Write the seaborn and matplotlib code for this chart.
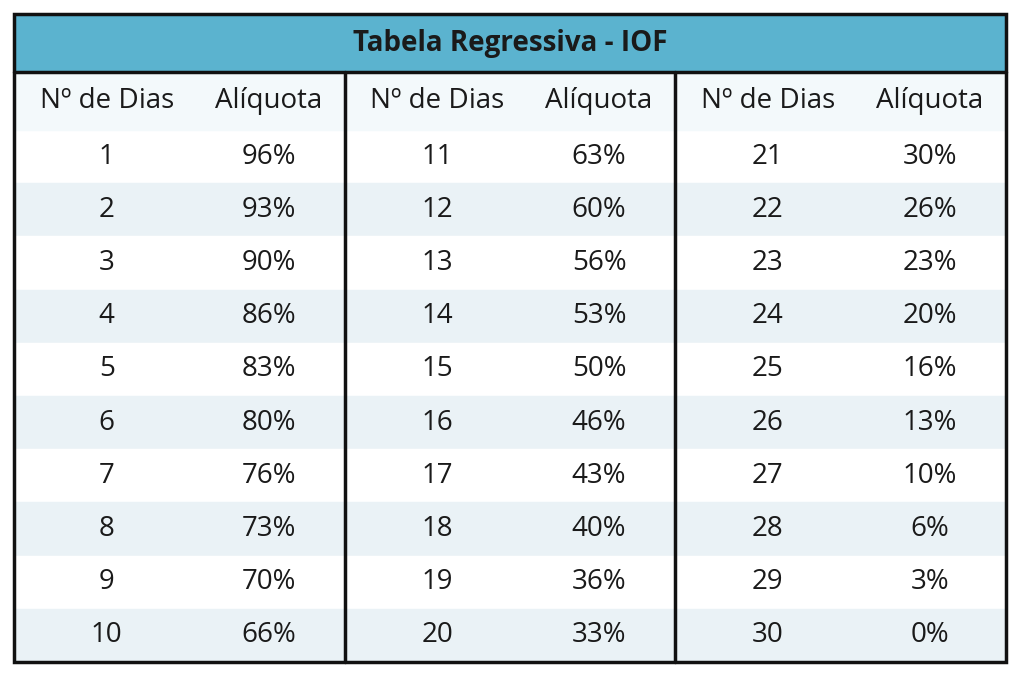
import numpy as np
import matplotlib.pyplot as plt
from matplotlib.patches import Rectangle
import seaborn as sns

titulo = 'Tabela Regressiva - IOF'
cabecalho = ['Nº de Dias', 'Alíquota']
dias = list(range(1, 31))
aliquotas = [96, 93, 90, 86, 83, 80, 76, 73, 70, 66,
             63, 60, 56, 53, 50, 46, 43, 40, 36, 33,
             30, 26, 23, 20, 16, 13, 10, 6, 3, 0]

sns.set_theme(style='white', font='Open Sans')
fig = plt.figure(figsize=(10.24, 6.83), dpi=100)
ax = fig.add_axes([0, 0, 1, 1])

x0, x1 = 14, 1006
y_tit, y_cab, y_dat, y_fim = 14, 72, 130, 662
h = (y_fim - y_dat) / 10
grupos = [(14, 345), (345, 675), (675, 1006)]

# faixas alternadas das linhas
for i in range(10):
    cor = '#eaf2f6' if i % 2 else '#ffffff'
    ax.add_patch(Rectangle((x0, y_dat + i * h), x1 - x0, h, color=cor, zorder=1))
ax.set_xlim(0, 1024)
ax.set_ylim(683, 0)
ax.axis('off')

ax.add_patch(Rectangle((x0, y_tit), x1 - x0, y_cab - y_tit, color='#5bb3cf', zorder=1))
ax.add_patch(Rectangle((x0, y_cab), x1 - x0, y_dat - y_cab, color='#f3f9fb', zorder=1))
ax.text((x0 + x1) / 2, (y_tit + y_cab) / 2, titulo, ha='center', va='center',
        fontsize=20, fontweight='bold', color='#1a1a1a', zorder=3)

for g, (a, b) in enumerate(grupos):
    cn = a + (b - a) * 0.28
    ca = a + (b - a) * 0.77
    ax.text(cn, (y_cab + y_dat) / 2, cabecalho[0], ha='center', va='center',
            fontsize=20, color='#1a1a1a', zorder=3)
    ax.text(ca, (y_cab + y_dat) / 2, cabecalho[1], ha='center', va='center',
            fontsize=20, color='#1a1a1a', zorder=3)
    for i in range(10):
        k = g * 10 + i
        yc = y_dat + (i + 0.5) * h
        ax.text(cn, yc, str(dias[k]), ha='center', va='center', fontsize=20,
                color='#1a1a1a', zorder=3)
        ax.text(ca, yc, f'{aliquotas[k]}%', ha='center', va='center', fontsize=20,
                color='#1a1a1a', zorder=3)

# bordas
lw = 2.5
ax.add_patch(Rectangle((x0, y_tit), x1 - x0, y_fim - y_tit, fill=False,
                       edgecolor='#111111', lw=lw, zorder=4))
ax.plot([x0, x1], [y_cab, y_cab], color='#111111', lw=lw, zorder=4)
for xs in (345, 675):
    ax.plot([xs, xs], [y_cab, y_fim], color='#111111', lw=lw, zorder=4)

fig.savefig('out.png', dpi=100, facecolor='white')
